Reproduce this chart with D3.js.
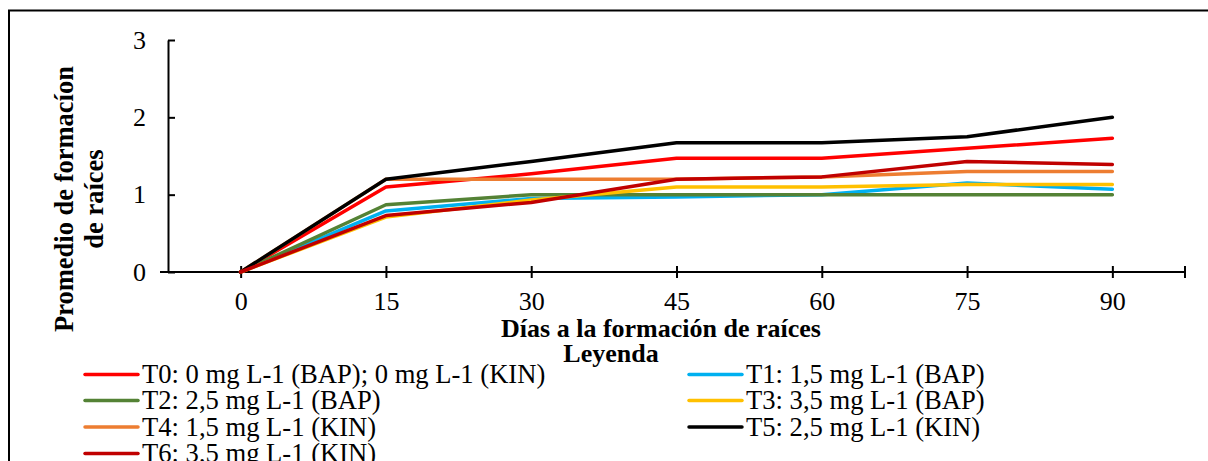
<html>
<head>
<meta charset="utf-8">
<script src="https://d3js.org/d3.v7.min.js"></script>
<style>
body { margin: 0; background: white; }
svg text { font-family: "Liberation Serif", "Times New Roman", Times, "DejaVu Serif", serif !important; fill: black; }
</style>
</head>
<body>
<svg width="1208" height="461"></svg>
<script>
// data
var days = ["0", "15", "30", "45", "60", "75", "90"];
var yTicks = [0, 1, 2, 3];
var names = ["T0: 0 mg L-1 (BAP); 0 mg L-1 (KIN)", "T1: 1,5 mg L-1 (BAP)", "T2: 2,5 mg L-1 (BAP)",
  "T3: 3,5 mg L-1 (BAP)", "T4: 1,5 mg L-1 (KIN)", "T5: 2,5 mg L-1 (KIN)", "T6: 3,5 mg L-1 (KIN)"];
var colors = ["#ff0000", "#00b0f0", "#548235", "#ffc000", "#ed7d31", "#000000", "#c00000"];
var t0 = [0, 1.1, 1.27, 1.47, 1.47, 1.6, 1.73];
var t1 = [0, 0.79, 0.95, 0.97, 1.0, 1.15, 1.07];
var t2 = [0, 0.87, 1.0, 1.0, 1.0, 1.0, 1.0];
var t3 = [0, 0.71, 0.93, 1.1, 1.1, 1.13, 1.13];
var t4 = [0, 1.2, 1.2, 1.2, 1.23, 1.3, 1.3];
var t5 = [0, 1.2, 1.43, 1.67, 1.67, 1.75, 2.0];
var t6 = [0, 0.73, 0.9, 1.2, 1.23, 1.43, 1.39];
var series = [t0, t1, t2, t3, t4, t5, t6];

var svg = d3.select("svg");
svg.append("rect").attr("width", 1208).attr("height", 461).attr("fill", "white");

// outer frame (only left and top show)
svg.append("path").attr("d", "M9,461V10.5H1208").attr("fill", "none")
  .attr("stroke", "black").attr("stroke-width", 2);

var left = 168, right = 1185, y0 = 272;
var x = d3.scalePoint().domain(days).range([left, right]).padding(0.5);
var y = d3.scaleLinear().domain([0, 3]).range([y0, 40]);

// y axis
var gy = svg.append("g").attr("transform", "translate(" + left + ",0)")
  .call(d3.axisLeft(y).tickValues(yTicks).tickFormat(d3.format("d")).tickSize(8).tickSizeOuter(0).tickPadding(14));
gy.select(".domain").attr("stroke-width", 2);
gy.selectAll(".tick line").attr("x2", 7).attr("stroke-width", 2);
gy.selectAll(".tick text").attr("font-size", 26);

// x axis
var gx = svg.append("g").attr("transform", "translate(0," + y0 + ")")
  .call(d3.axisBottom(x).tickSize(6).tickSizeOuter(0).tickPadding(14));
gx.select(".domain").attr("d", "M160,0H" + right).attr("stroke-width", 2);
gx.selectAll(".tick line").attr("y1", -6).attr("stroke-width", 2);
gx.selectAll(".tick text").attr("font-size", 26);
gx.append("line").attr("x1", right).attr("x2", right).attr("y1", -6).attr("y2", 6)
  .attr("stroke", "black").attr("stroke-width", 2);

// series lines
var line = d3.line().x(function(d, i) { return x(days[i]); }).y(function(d) { return y(d); });
svg.append("g").selectAll("path").data(series).enter().append("path")
  .attr("d", line)
  .attr("fill", "none")
  .attr("stroke", function(d, i) { return colors[i]; })
  .attr("stroke-width", 3.5)
  .attr("stroke-linejoin", "round")
  .attr("stroke-linecap", "round");

// titles
svg.append("text").attr("x", 661).attr("y", 337).attr("text-anchor", "middle")
  .attr("font-size", 26).attr("font-weight", "bold").text("Días a la formación de raíces");
svg.append("text").attr("x", 611).attr("y", 362).attr("text-anchor", "middle")
  .attr("font-size", 26).attr("font-weight", "bold").text("Leyenda");
var yt = svg.append("text").attr("transform", "translate(73,199) rotate(-90)")
  .attr("text-anchor", "middle").attr("font-size", 26.5).attr("font-weight", "bold");
yt.append("tspan").attr("x", 0).attr("y", 0).text("Promedio de formacíon");
yt.append("tspan").attr("x", 0).attr("y", 30).text("de raíces");

// legend, two columns
var rows = [374.5, 400.5, 427, 453.5];
var lg = svg.append("g").selectAll("g").data(names).enter().append("g")
  .attr("transform", function(d, i) {
    return "translate(" + (i % 2 == 0 ? 85 : 689) + "," + rows[Math.floor(i / 2)] + ")";
  });
lg.append("line").attr("x1", 0).attr("x2", 53)
  .attr("stroke", function(d, i) { return colors[i]; })
  .attr("stroke-width", 3.5).attr("stroke-linecap", "round");
lg.append("text").attr("x", 57).attr("dy", "0.33em").attr("font-size", 26.6)
  .text(function(d) { return d; });
</script>
</body>
</html>
